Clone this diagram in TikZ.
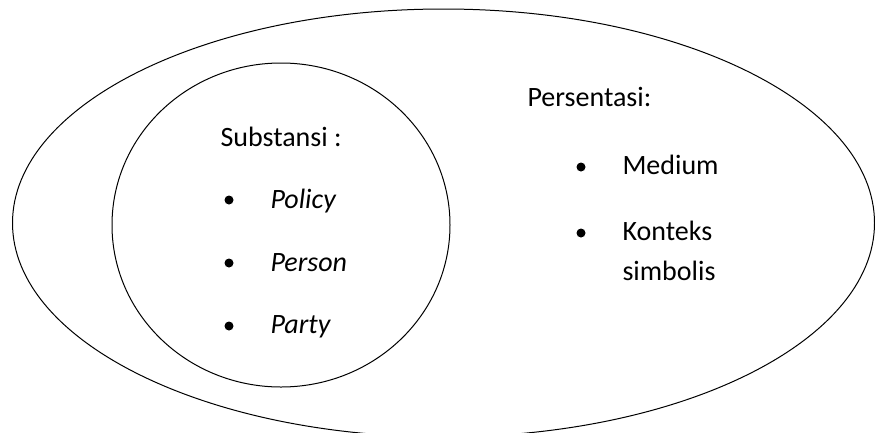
\documentclass[tikz,border=0pt]{standalone}
\usepackage{fontspec}
\setmainfont{Carlito}
\usetikzlibrary{positioning}

\begin{document}
\begin{tikzpicture}[
          x=1pt, y=-1pt, % pixel-like units, y downwards
          line width=1pt,
          dot/.style={circle, fill, inner sep=0pt, minimum size=9pt}, % list bullet
          txt/.style={anchor=base west, inner sep=0pt, font=\fontsize{28}{34}\selectfont}
      ]
        \useasboundingbox (0,0) rectangle (875,432);
        \clip (0,0) rectangle (875,432);
        % outer ellipse: presentation
        \draw (443.5,223) ellipse [x radius=431pt, y radius=214pt];
        % inner circle: substance
        \draw (281,225) ellipse [x radius=169pt, y radius=162pt];
        % substance list
        \node[txt] (subst) at (220,146) {Substansi :};
        \node[dot] (d1) at (229,200) {};
        \node[txt] (policy) at (270,208) {\itshape Policy};
        \node[dot] (d2) at (229,263) {};
        \node[txt] (person) at (270,271) {\itshape Person};
        \node[dot] (d3) at (229,326) {};
        \node[txt] (party) at (270,333) {\itshape Party};
        % presentation list
        \node[txt] (pres) at (527,106) {Persentasi:};
        \node[dot] (d4) at (581,167) {};
        \node[txt] (medium) at (622,174) {Medium};
        \node[dot] (d5) at (581,233) {};
        \node[txt] (konteks) at (622,240) {Konteks};
        \node[txt] (simbolis) at (622,280) {simbolis};
      \end{tikzpicture}
\end{document}
